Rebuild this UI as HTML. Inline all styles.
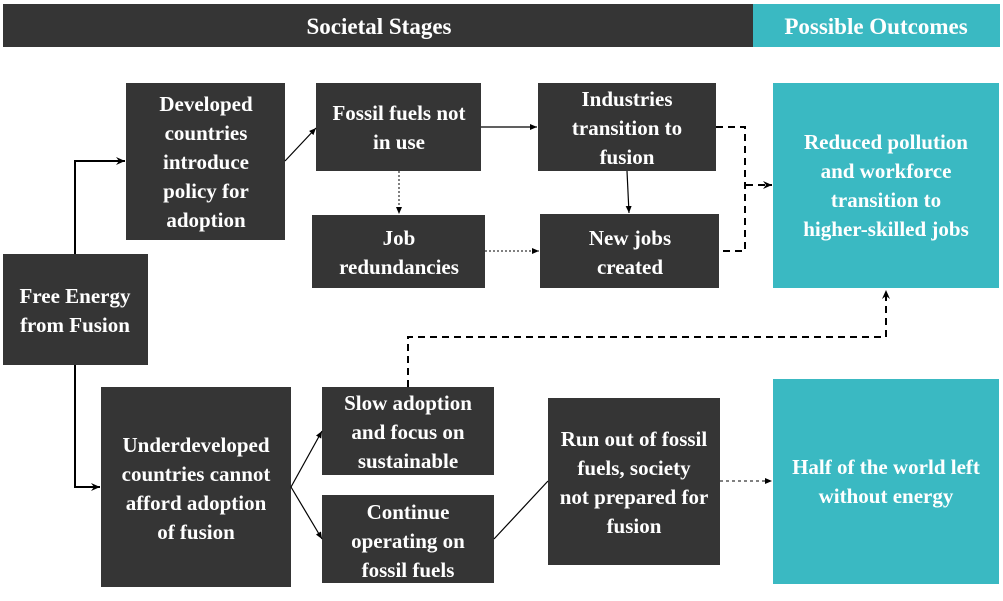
<!DOCTYPE html>
<html><head><meta charset="utf-8"><style>
html,body{margin:0;padding:0;background:#fff;}
svg{display:block;}
text{font-family:"Liberation Serif","DejaVu Serif",serif;font-size:21px;font-weight:bold;fill:#fff;text-anchor:middle;}
</style></head><body>
<svg width="1003" height="601" viewBox="0 0 1003 601" xmlns="http://www.w3.org/2000/svg">
<defs>
<marker id="a" markerWidth="10" markerHeight="10" refX="9" refY="5" orient="auto" markerUnits="userSpaceOnUse"><path d="M0,1 L9,5 L0,9 L3,5 z" fill="#000"/></marker>
<marker id="s" markerWidth="8" markerHeight="8" refX="7" refY="4" orient="auto" markerUnits="userSpaceOnUse"><path d="M0,1 L7,4 L0,7 z" fill="#000"/></marker>
</defs>
<rect x="3" y="4" width="750" height="43" fill="#353535"/>
<rect x="753" y="4" width="247" height="43" fill="#3ab9c2"/>
<text x="379" y="34" style="font-size:23px">Societal Stages</text>
<text x="876" y="34" style="font-size:23px">Possible Outcomes</text>

<g fill="#353535">
<rect x="3" y="254" width="145" height="111"/>
<rect x="126" y="83" width="159" height="157"/>
<rect x="316" y="83" width="165" height="88"/>
<rect x="312" y="215" width="173" height="73"/>
<rect x="538" y="83" width="178" height="88"/>
<rect x="540" y="214" width="179" height="74"/>
<rect x="101" y="387" width="190" height="200"/>
<rect x="322" y="387" width="172" height="88"/>
<rect x="322" y="495" width="172" height="88"/>
<rect x="548" y="398" width="172" height="167"/>
</g>
<rect x="773" y="83" width="226" height="205" fill="#3ab9c2"/>
<rect x="773" y="379" width="226" height="205" fill="#3ab9c2"/>

<text x="75" y="303">Free Energy</text><text x="75" y="332">from Fusion</text>
<text x="206" y="111">Developed</text><text x="206" y="140">countries</text><text x="206" y="169">introduce</text><text x="206" y="198">policy for</text><text x="206" y="227">adoption</text>
<text x="399" y="120">Fossil fuels not</text><text x="399" y="149">in use</text>
<text x="399" y="245">Job</text><text x="399" y="274">redundancies</text>
<text x="627" y="106">Industries</text><text x="627" y="135">transition to</text><text x="627" y="164">fusion</text>
<text x="630" y="245">New jobs</text><text x="630" y="274">created</text>
<text x="886" y="149">Reduced pollution</text><text x="886" y="178">and workforce</text><text x="886" y="207">transition to</text><text x="886" y="236">higher-skilled jobs</text>
<text x="196" y="452">Underdeveloped</text><text x="196" y="481">countries cannot</text><text x="196" y="510">afford adoption</text><text x="196" y="539">of fusion</text>
<text x="408" y="410">Slow adoption</text><text x="408" y="439">and focus on</text><text x="408" y="468">sustainable</text>
<text x="408" y="519">Continue</text><text x="408" y="548">operating on</text><text x="408" y="577">fossil fuels</text>
<text x="634" y="446">Run out of fossil</text><text x="634" y="475">fuels, society</text><text x="634" y="504">not prepared for</text><text x="634" y="533">fusion</text>
<text x="886" y="474">Half of the world left</text><text x="886" y="503">without energy</text>

<g fill="none" stroke="#000">
<path d="M75,254 V161 H125" stroke-width="2" marker-end="url(#a)"/>
<path d="M75,365 V487 H100" stroke-width="2" marker-end="url(#a)"/>
<path d="M285,161 L316,128" stroke-width="1.2" marker-end="url(#s)"/>
<path d="M481,127 H537" stroke-width="1.2" marker-end="url(#s)"/>
<path d="M399,171 V214" stroke-width="1" stroke-dasharray="2,2" marker-end="url(#s)"/>
<path d="M485,251 H539" stroke-width="1" stroke-dasharray="2,2" marker-end="url(#s)"/>
<path d="M627,171 L629,213" stroke-width="1.2" marker-end="url(#s)"/>
<path d="M716,127 H745 V251 H719" stroke-width="2" stroke-dasharray="7,5"/>
<path d="M746,185 H772" stroke-width="2" stroke-dasharray="7,5" marker-end="url(#a)"/>
<path d="M408,387 V337 H886 V290" stroke-width="2" stroke-dasharray="7,5" marker-end="url(#a)"/>
<path d="M291,487 L322,431" stroke-width="1.2" marker-end="url(#s)"/>
<path d="M291,487 L322,539" stroke-width="1.2" marker-end="url(#s)"/>
<path d="M494,539 L548,481" stroke-width="1.2"/>
<path d="M720,481 H772" stroke-width="1" stroke-dasharray="3,3" marker-end="url(#s)"/>
</g>
</svg>
</body></html>
